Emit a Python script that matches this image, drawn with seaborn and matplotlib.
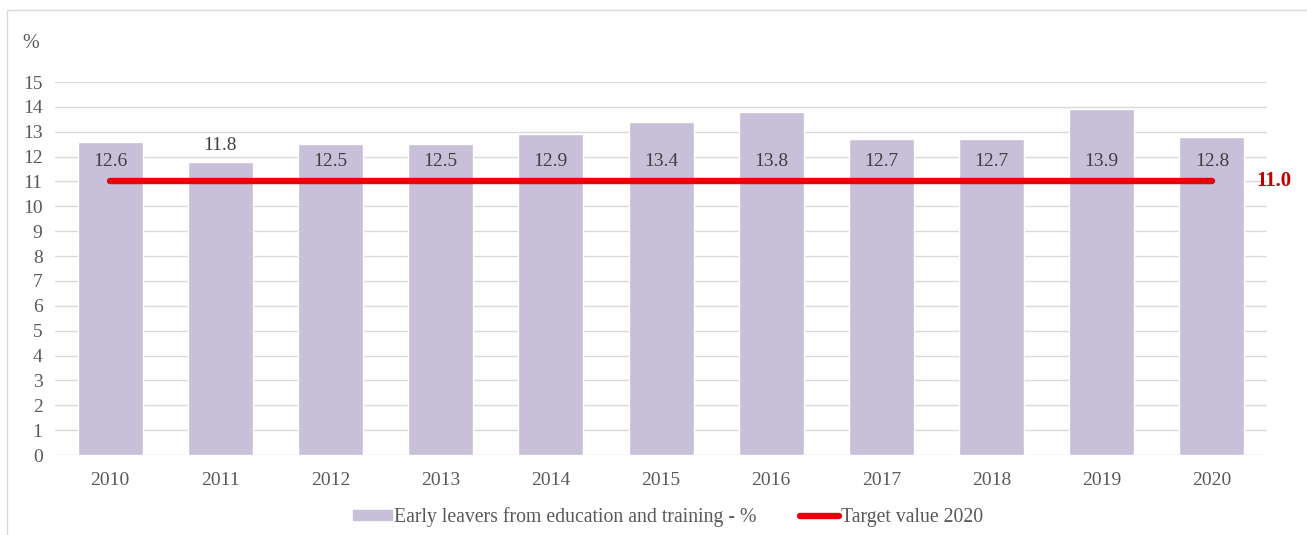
import matplotlib
matplotlib.use("Agg")
import matplotlib.pyplot as plt
import matplotlib.patches as mpatches
from matplotlib.lines import Line2D
import seaborn as sns
import pandas as pd

years = ["2010", "2011", "2012", "2013", "2014", "2015", "2016", "2017", "2018", "2019", "2020"]
early_leavers = [12.6, 11.8, 12.5, 12.5, 12.9, 13.4, 13.8, 12.7, 12.7, 13.9, 12.8]
target_2020 = [11.0, 11.0, 11.0, 11.0, 11.0, 11.0, 11.0, 11.0, 11.0, 11.0, 11.0]
y_ticks = list(range(0, 16))

bar_label = "Early leavers from education and training - %"
line_label = "Target value 2020"

sns.set_theme(style="white")
plt.rcParams["font.family"] = ["Liberation Serif", "DejaVu Serif"]

BAR_COLOR = "#c8bfd9"
RED = "#e8000b"
TEXT = "#595959"
GRID = "#d9d9d9"

df = pd.DataFrame({"year": years, "value": early_leavers})

fig = plt.figure(figsize=(13.07, 5.35), dpi=100)
ax = fig.add_axes([0.0421, 0.1495, 0.9273, 0.6972])

sns.barplot(data=df, x="year", y="value", color=BAR_COLOR, width=0.59,
            saturation=1, ax=ax, zorder=2)
sns.lineplot(x=list(range(len(years))), y=target_2020, color=RED, linewidth=4.6,
             solid_capstyle="round", ax=ax, zorder=3)

ax.set_ylim(0, 15)
ax.set_xlim(-0.5, len(years) - 0.5)
ax.set_yticks(y_ticks)
ax.set_yticklabels([str(t) for t in y_ticks])
ax.set_xlabel("")
ax.set_ylabel("")
ax.yaxis.grid(True, color=GRID, linewidth=1.0, zorder=0)
ax.set_axisbelow(True)
for s in ax.spines.values():
    s.set_visible(False)
ax.tick_params(axis="both", length=0, labelsize=14, labelcolor=TEXT)
ax.tick_params(axis="y", pad=9)
ax.tick_params(axis="x", pad=12)

# Value labels: placed inside the bars, above the bar where the target line would cover it
for i, v in enumerate(early_leavers):
    ypos = v + 0.66 if v < 12.0 else 11.8
    ax.text(i, ypos, f"{v:.1f}", ha="center", va="center", fontsize=14,
            color="#404040", zorder=4)

# Target value label at the end of the line
ax.text(len(years) - 1 + 0.4, target_2020[-1], f"{target_2020[-1]:.1f}", ha="left",
        va="center", fontsize=15, color="#c00000", fontweight="bold", zorder=4)

fig.text(0.0175, 0.919, "%", fontsize=14.5, color=TEXT, ha="left", va="center")

handles = [mpatches.Patch(color=BAR_COLOR, label=bar_label),
           Line2D([0], [0], color=RED, linewidth=4.6, solid_capstyle="round", label=line_label)]
fig.legend(handles=handles, loc="center", bbox_to_anchor=(0.511, 0.033), ncol=2,
           frameon=False, fontsize=14.2, labelcolor=TEXT, handlelength=2.0,
           handleheight=0.4, handletextpad=0.08, columnspacing=2.2)

# Light outer frame of the chart area
fig.patches.append(mpatches.Rectangle((7 / 1307, -0.01), 1.01, 1 - 10 / 535 + 0.01,
                                      transform=fig.transFigure, fill=False,
                                      edgecolor="#d9d9d9", linewidth=1.0))

fig.savefig("out.png", dpi=100)
